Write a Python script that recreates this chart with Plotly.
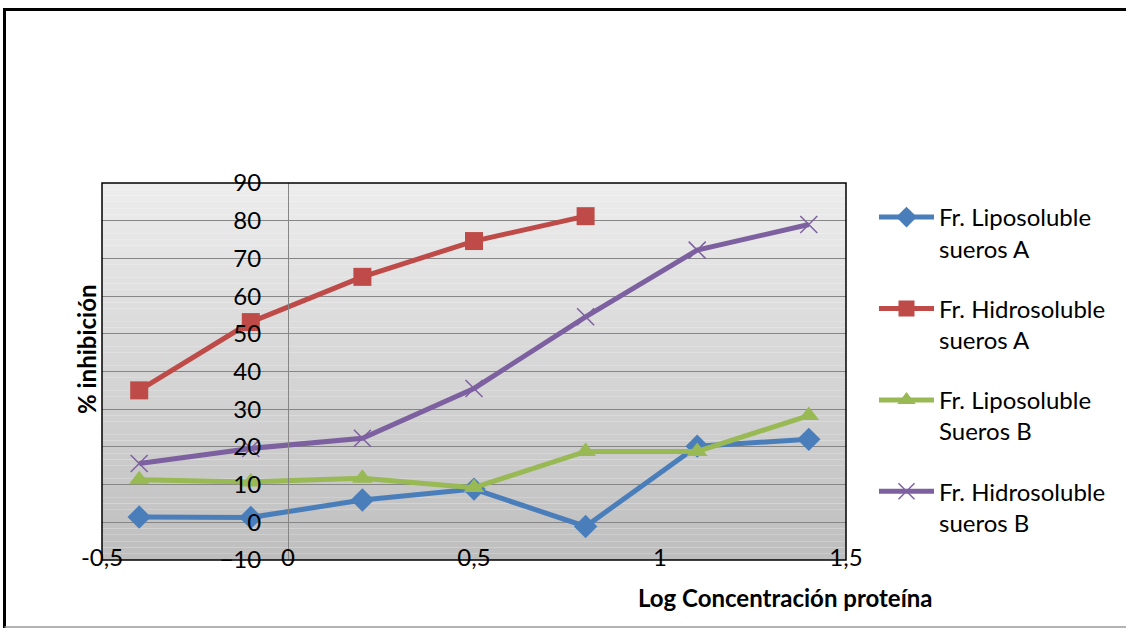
import plotly.graph_objects as go

# ---- data ----
x_vals = [-0.4, -0.1, 0.2, 0.5, 0.8, 1.1, 1.4]
x_vals_hidro_a = [-0.4, -0.1, 0.2, 0.5, 0.8]
lipo_a = [1.4, 1.3, 5.9, 8.8, -1.1, 20.2, 22.0]
hidro_a = [35.0, 53.1, 65.1, 74.6, 81.2]
lipo_b = [11.3, 10.7, 11.7, 9.2, 18.8, 18.8, 28.3]
hidro_b = [15.6, 19.6, 22.3, 35.5, 54.5, 72.2, 79.0]
series_names = [
    "Fr. Liposoluble<br>sueros A",
    "Fr. Hidrosoluble<br>sueros A",
    "Fr. Liposoluble<br>Sueros B",
    "Fr. Hidrosoluble<br>sueros B",
]
x_ticks = [-0.5, 0, 0.5, 1, 1.5]
x_tick_text = ["-0,5", "0", "0,5", "1", "1,5"]
y_ticks = [-10, 0, 10, 20, 30, 40, 50, 60, 70, 80, 90]
x_title = "Log Concentración proteína"
y_title = "% inhibición"

FONT = "Lato"
FS = 24
colors = ["#4A7EBB", "#BE4B48", "#98B954", "#7D60A0"]
symbols = ["diamond", "square", "triangle-up", "x-thin"]
sizes = [18, 18, 18, 17]

fig = go.Figure()
series = [(x_vals, lipo_a), (x_vals_hidro_a, hidro_a), (x_vals, lipo_b), (x_vals, hidro_b)]
for i, ((xs, ys), name) in enumerate(zip(series, series_names)):
    mk = dict(symbol=symbols[i], size=sizes[i], color=colors[i])
    if symbols[i] == "x-thin":
        mk["line"] = dict(color=colors[i], width=1.5)
    fig.add_trace(go.Scatter(
        x=xs, y=ys, name=name, mode="lines+markers",
        line=dict(color=colors[i], width=5),
        marker=mk, legendgroup=f"g{i}",
    ))

# gradient background
shapes = []
n = 60
top = (237, 237, 237)
bot = (190, 190, 190)
for k in range(n):
    t = (k + 0.5) / n
    c = tuple(int(round(bot[j] + (top[j] - bot[j]) * t)) for j in range(3))
    shapes.append(dict(type="rect", xref="paper", yref="paper", x0=0, x1=1,
                       y0=k / n, y1=(k + 1) / n, fillcolor=f"rgb{c}",
                       line=dict(width=0), layer="below"))
# plot border
shapes.append(dict(type="rect", xref="paper", yref="paper", x0=0, x1=1, y0=0, y1=1,
                   line=dict(color="black", width=1.5), fillcolor="rgba(0,0,0,0)", layer="above"))
# outer frame (top, left black, bottom gray)
W, H = 1126, 628
ml, mr, mt, mb = 102, 280, 183, 68
pw, ph = W - ml - mr, H - mt - mb
def px(x):
    return (x - ml) / pw
def py(y):
    return (H - mb - y) / ph
shapes.append(dict(type="line", xref="paper", yref="paper", x0=px(3), x1=px(1140), y0=py(9.5), y1=py(9.5),
                   line=dict(color="black", width=3), layer="above"))
shapes.append(dict(type="line", xref="paper", yref="paper", x0=px(4.5), x1=px(4.5), y0=py(9.5), y1=py(640),
                   line=dict(color="black", width=3), layer="above"))
shapes.append(dict(type="line", xref="paper", yref="paper", x0=px(4.5), x1=px(1140), y0=py(627), y1=py(627),
                   line=dict(color="#9a9a9a", width=1.5), layer="above"))

fig.update_layout(
    width=W, height=H,
    margin=dict(l=ml, r=mr, t=mt, b=mb, autoexpand=False),
    paper_bgcolor="white", plot_bgcolor="rgba(0,0,0,0)",
    font=dict(family=FONT, size=FS, color="black"),
    shapes=shapes,
    showlegend=True,
    legend=dict(x=px(874), y=py(195), xanchor="left", yanchor="top",
                font=dict(family=FONT, size=FS, color="black"),
                itemwidth=55, tracegroupgap=26, valign="top",
                bgcolor="rgba(0,0,0,0)", traceorder="grouped"),
    xaxis=dict(range=[-0.5, 1.5], tickvals=x_ticks, ticktext=x_tick_text,
               showgrid=False, zeroline=False, showline=False, ticks="",
               tickfont=dict(family=FONT, size=FS, color="black"),
               ticklabelstandoff=-19),
    yaxis=dict(range=[-10, 90], tickvals=y_ticks, anchor="free", position=0.25,
               showline=True, linecolor="#868686", linewidth=1,
               showgrid=True, gridcolor="#868686", gridwidth=1, zeroline=False,
               ticks="", tickfont=dict(family=FONT, size=FS, color="black"),
               ticklabelstandoff=22),
    annotations=[
        dict(text=f"<b>{x_title}</b>", xref="paper", yref="paper", x=px(785), y=py(597),
             xanchor="center", yanchor="middle",
             showarrow=False, font=dict(family=FONT, size=FS, color="black")),
        dict(text=f"<b>{y_title}</b>", xref="paper", yref="paper", x=px(86), y=py(350),
             xanchor="center", yanchor="middle",
             showarrow=False, textangle=-90, font=dict(family=FONT, size=FS, color="black")),
    ],
)

fig.write_html("out.html", config={"displayModeBar": False},
               post_script="document.body.style.margin='0';")
